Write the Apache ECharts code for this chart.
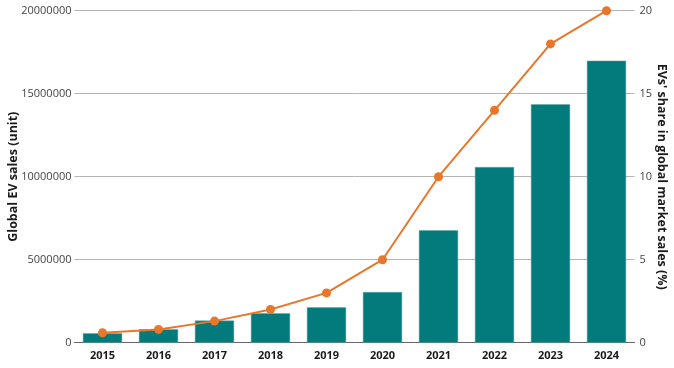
<!DOCTYPE html>
<html><head><meta charset="utf-8">
<script src="https://cdn.jsdelivr.net/npm/echarts@6/dist/echarts.min.js"></script>
<style>html,body{margin:0;padding:0;background:#fff}#c{width:674px;height:368px}</style>
</head><body><div id="c"></div>
<script>
const years = ['2015','2016','2017','2018','2019','2020','2021','2022','2023','2024'];
const evSales = [570000, 810000, 1330000, 1770000, 2130000, 3050000, 6770000, 10580000, 14360000, 16990000];
const evShare = [0.6, 0.8, 1.3, 2.0, 3.0, 5.0, 10.0, 14.0, 18.0, 20.0];
const leftTicks = [0, 5000000, 10000000, 15000000, 20000000];
const rightTicks = [0, 5, 10, 15, 20];

const chart = echarts.init(document.getElementById('c'));
const font = '"Open Sans", "DejaVu Sans", sans-serif';
chart.setOption({
  animation: false,
  grid: {left: 74.5, right: 39.5, top: 10.7, bottom: 25.3, containLabel: false, outerBoundsMode: 'none'},
  xAxis: {
    type: 'category', data: years,
    axisLine: {lineStyle: {color: '#666', width: 1}},
    axisTick: {show: false},
    axisLabel: {color: '#1a1a1a', fontWeight: 'bold', fontSize: 11, fontFamily: font, margin: 8}
  },
  yAxis: [{
    type: 'value', min: leftTicks[0], max: leftTicks[leftTicks.length-1], interval: 5000000,
    name: 'Global EV sales (unit)', nameLocation: 'middle', nameGap: 55, nameMoveOverlap: false,
    nameTextStyle: {color: '#1a1a1a', fontWeight: 'bold', fontSize: 12.5, fontFamily: font},
    axisLine: {show: false}, axisTick: {show: false},
    axisLabel: {color: '#444', fontSize: 11, fontFamily: font, margin: 3, formatter: v => String(v)},
    splitLine: {lineStyle: {color: '#b5b5b5', width: 1}}
  }, {
    type: 'value', min: rightTicks[0], max: rightTicks[rightTicks.length-1], interval: 5,
    name: "EVs' share in global market sales (%)", nameLocation: 'middle', nameGap: 21, nameRotate: -90, nameMoveOverlap: false,
    nameTextStyle: {color: '#1a1a1a', fontWeight: 'bold', fontSize: 12.5, fontFamily: font},
    axisLine: {show: false}, axisTick: {show: false},
    axisLabel: {color: '#444', fontSize: 11, fontFamily: font, margin: 5},
    splitLine: {show: false}
  }],
  series: [{
    type: 'bar', data: evSales, yAxisIndex: 0, barCategoryGap: '30%',
    itemStyle: {color: '#037a7b', borderColor: '#5fa8a8', borderWidth: 0.5}
  }, {
    type: 'line', data: evShare, yAxisIndex: 1,
    symbol: 'circle', symbolSize: 9,
    lineStyle: {color: '#e7772a', width: 2},
    itemStyle: {color: '#e7772a'}
  }]
});
</script></body></html>
